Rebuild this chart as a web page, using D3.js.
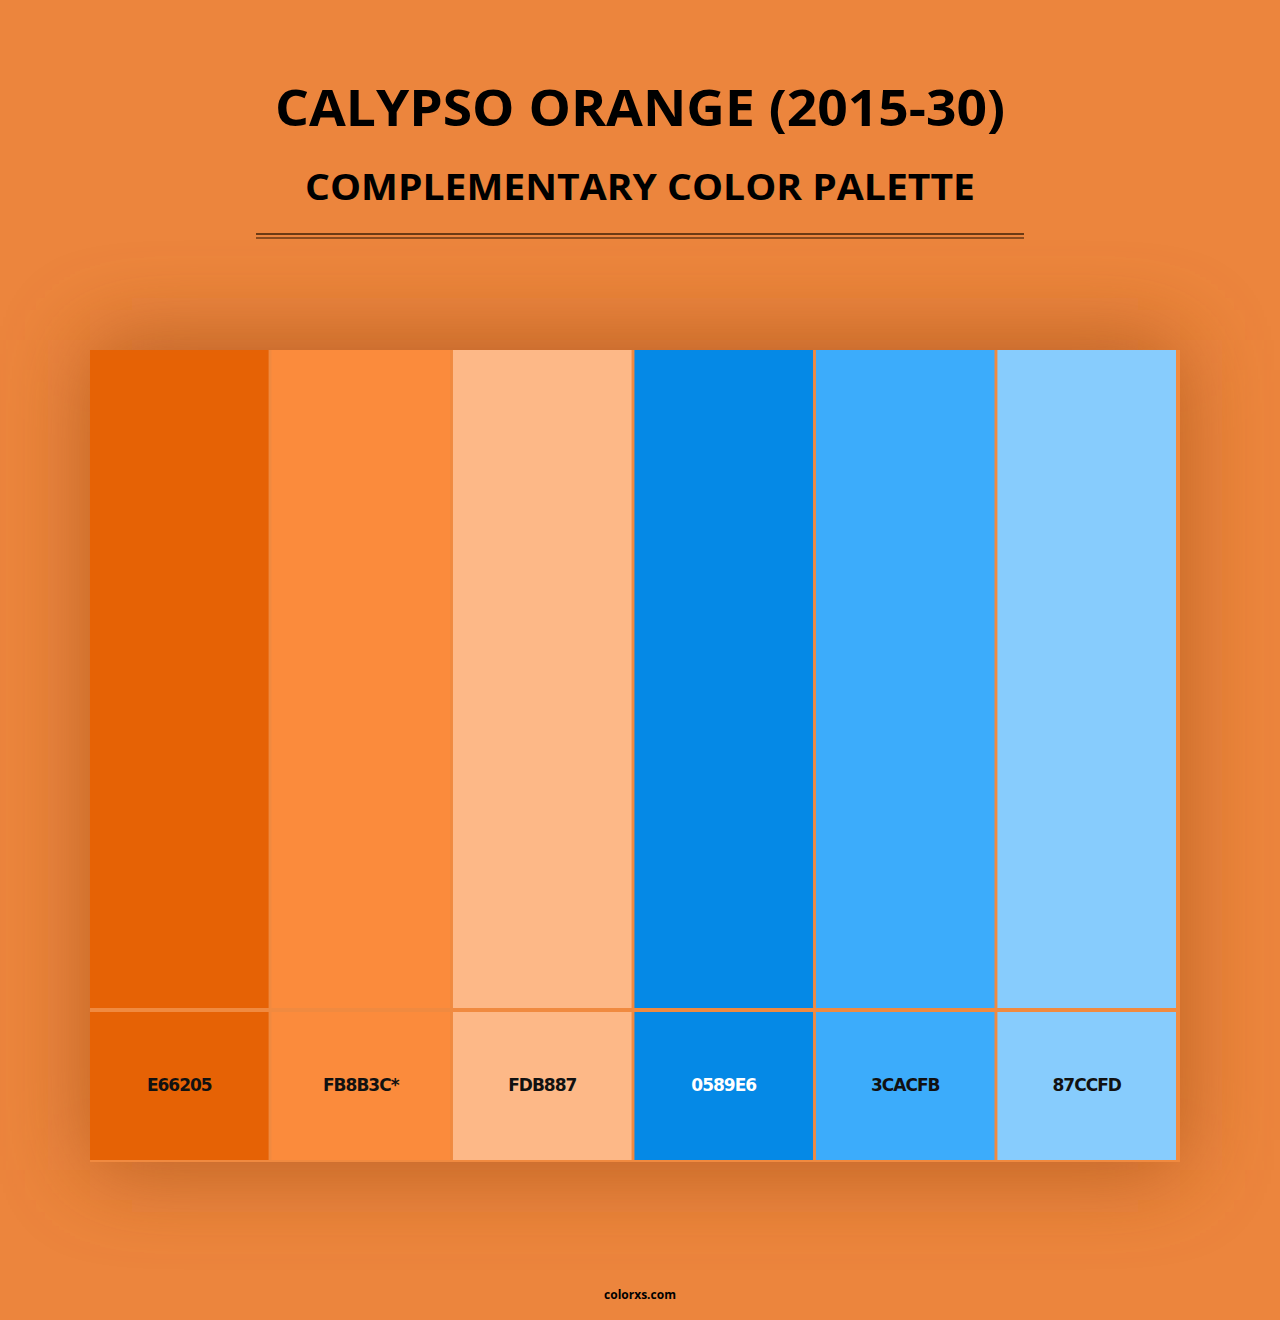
<!DOCTYPE html>
<html><head><meta charset="utf-8">
<script src="https://cdn.jsdelivr.net/npm/d3@7"></script>
<style>body{margin:0;background:#EC853D}</style>
</head><body>
<svg id="chart" width="1280" height="1320"></svg>
<script>
const colors = ['#E66205', '#FB8B3C', '#FDB887', '#0589E6', '#3CACFB', '#87CCFD']
const labels = ['E66205', 'FB8B3C*', 'FDB887', '0589E6', '3CACFB', '87CCFD']
const labelColors = ['#111', '#111', '#111', '#fff', '#111', '#111']

const svg = d3.select('#chart')
const defs = svg.append('defs')
const f = defs.append('filter').attr('id', 'blur').attr('x', '-30%').attr('y', '-30%').attr('width', '160%').attr('height', '160%')
f.append('feGaussianBlur').attr('stdDeviation', 45)

svg.append('rect').attr('width', 1280).attr('height', 1320).attr('fill', '#EC853D')
svg.append('rect').attr('x', 90).attr('y', 340).attr('width', 1090).attr('height', 830)
    .attr('fill', '#A8541F').attr('opacity', 0.75).attr('filter', 'url(#blur)')

svg.append('text').attr('x', 640).attr('y', 126).attr('text-anchor', 'middle')
    .attr('font-family', 'Open Sans, sans-serif').attr('font-weight', 700).attr('font-size', 50)
    .attr('textLength', 730).attr('lengthAdjust', 'spacingAndGlyphs')
    .text('CALYPSO ORANGE (2015-30)')
svg.append('text').attr('x', 640).attr('y', 200).attr('text-anchor', 'middle')
    .attr('font-family', 'Open Sans, sans-serif').attr('font-weight', 700).attr('font-size', 36)
    .attr('textLength', 670).attr('lengthAdjust', 'spacingAndGlyphs')
    .text('COMPLEMENTARY COLOR PALETTE')
svg.append('line').attr('x1', 256).attr('x2', 1024).attr('y1', 234).attr('y2', 234).attr('stroke', '#6B3A14').attr('stroke-width', 2)
svg.append('line').attr('x1', 256).attr('x2', 1024).attr('y1', 238).attr('y2', 238).attr('stroke', '#6B3A14').attr('stroke-width', 1.5)

svg.append('rect').attr('x', 90).attr('y', 350).attr('width', 1090).attr('height', 812).attr('fill', '#F08A40')

const x = d3.scaleBand().domain(labels).range([90, 1176]).paddingInner(0.016)

const g = svg.append('g')
g.selectAll('rect.top').data(labels).enter().append('rect')
    .attr('x', d => x(d)).attr('y', 350).attr('width', x.bandwidth()).attr('height', 658)
    .attr('fill', (d, i) => colors[i])
g.selectAll('rect.bot').data(labels).enter().append('rect')
    .attr('x', d => x(d)).attr('y', 1012).attr('width', x.bandwidth()).attr('height', 148)
    .attr('fill', (d, i) => colors[i])
g.selectAll('text').data(labels).enter().append('text')
    .attr('x', d => x(d) + x.bandwidth() / 2).attr('y', 1091).attr('text-anchor', 'middle')
    .attr('font-family', 'DejaVu Sans, sans-serif').attr('font-weight', 700).attr('font-size', 17)
    .attr('letter-spacing', -1)
    .attr('fill', (d, i) => labelColors[i]).text(d => d)

svg.append('text').attr('x', 640).attr('y', 1299).attr('text-anchor', 'middle')
    .attr('font-family', 'Open Sans, sans-serif').attr('font-weight', 700).attr('font-size', 12)
    .text('colorxs.com')
</script>
</body></html>
